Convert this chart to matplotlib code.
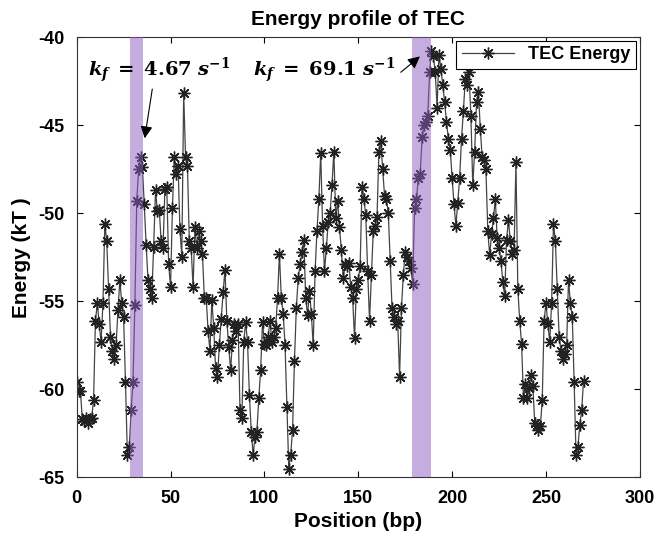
import matplotlib
matplotlib.use("Agg")
from matplotlib import pyplot as plt
import numpy as np

plt.rcParams['font.family'] = ['Liberation Sans', 'DejaVu Sans']
plt.rcParams['axes.unicode_minus'] = False
plt.rcParams['mathtext.fontset'] = 'custom'
plt.rcParams['mathtext.it'] = 'DejaVu Serif:style=italic:weight=bold'
plt.rcParams['mathtext.rm'] = 'DejaVu Serif:weight=bold'

# energy along the template, one value per bp starting at 0
energy = [
    -59.6, -60.1, -60.1, -61.7, -61.8, -61.6, -61.9, -61.7, -61.6, -60.6,
    -56.1, -55.1, -56.3, -57.3, -55.1, -50.6, -51.6, -54.3, -57.0, -57.8,
    -58.3, -57.5, -55.5, -53.8, -55.1, -55.9, -59.6, -63.7, -63.3, -61.2,
    -59.6, -55.2, -49.3, -47.5, -46.8, -47.4, -49.5, -51.8, -53.8, -54.3,
    -54.8, -51.9, -48.7, -49.9, -49.8, -51.6, -52.0, -48.6, -48.5, -52.9,
    -54.2, -49.7, -46.8, -47.8, -47.3, -50.9, -52.5, -43.2, -46.8, -47.3,
    -51.6, -52.0, -54.2, -50.8, -52.0, -51.0, -51.6, -52.3, -54.8, -54.8,
    -56.7, -57.8, -54.9, -56.5, -58.8, -59.3, -57.5, -56.0, -54.5, -53.2,
    -56.1, -57.6, -58.9, -57.2, -56.3, -56.7, -56.3, -61.2, -61.6, -57.3,
    -56.2, -57.3, -60.3, -62.4, -63.7, -62.7, -62.4, -60.5, -58.9, -56.2,
    -57.4, -57.5, -57.0, -56.1, -57.3, -57.0, -56.5, -54.8, -52.3, -54.8,
    -55.7, -57.5, -61.0, -64.5, -63.7, -62.3, -58.4, -55.4, -53.7, -52.9,
    -52.2, -51.5, -54.8, -55.8, -54.4, -55.7, -57.5, -53.3, -51.0, -49.2,
    -46.6, -50.7, -53.3, -52.0, -50.5, -50.0, -48.4, -46.5, -50.3, -49.3,
    -50.8, -52.1, -53.7, -52.9, -53.0, -52.8, -54.2, -54.8, -57.1, -54.3,
    -53.8, -53.0, -48.5, -49.2, -50.1, -53.3, -56.1, -53.5, -51.0, -50.7,
    -50.2, -46.5, -45.9, -47.5, -49.0, -49.2, -50.0, -52.7, -55.4, -55.9,
    -56.3, -56.1, -59.3, -55.4, -53.5, -52.2, -52.5, -52.7, -53.1, -54.0,
    -49.7, -49.2, -48.0, -47.8, -45.7, -45.0, -44.8, -44.5, -42.0, -40.8,
    -41.1, -42.0, -44.0, -41.0, -41.8, -42.7, -43.7, -44.8, -45.8, -46.4,
    -48.0, -49.5, -50.7, -49.4, -48.0, -45.8, -44.2, -42.4, -42.7, -42.0,
    -44.5, -48.4, -46.5, -43.7, -43.1, -45.2, -46.8, -47.0, -47.5, -51.0,
    -52.4, -51.2, -50.3, -49.2, -51.4, -52.0, -52.7, -53.9, -54.7, -51.5,
    -50.4, -51.6, -52.3, -52.1, -47.1, -54.3, -56.1, -57.4, -60.5, -59.7,
    -60.5, -59.9, -59.2, -59.8, -61.9, -62.0, -62.3, -62.1, -60.6, -56.1,
    -55.1, -56.3, -57.3, -55.1, -50.6, -51.6, -54.3, -57.0, -57.8, -58.3,
    -58.0, -57.5, -53.8, -55.1, -55.9, -59.6, -63.7, -63.3, -62.0, -61.2,
    -59.5,
]
position = np.arange(len(energy))

# highlighted regions and their folding rates
bands = [(28.4, 35.3), (178.6, 188.8)]
rate_labels = [r'$k_f\;=\;4.67\;s^{-1}$', r'$k_f\;=\;69.1\;s^{-1}$']
text_pos = [(5.8, -41.9), (94.0, -41.9)]
arrow_tail = [(40.5, -42.8), (171.5, -42.1)]
arrow_tip = [(36.0, -45.9), (184.0, -41.0)]

fig = plt.figure(figsize=(6.61, 5.45), dpi=100)
ax = fig.add_axes([0.116, 0.124, 0.852, 0.808])

ax.plot(position, energy, '-', color='#444444', lw=0.9, marker=(8, 2, 0),
        ms=8.5, mec='#222222', mew=1.0, label='TEC Energy', zorder=2)

for lo, hi in bands:
    ax.axvspan(lo, hi, color='#8e5cc0', alpha=0.5, lw=0, zorder=3)

for lab, tp, tail, tip in zip(rate_labels, text_pos, arrow_tail, arrow_tip):
    ax.text(tp[0], tp[1], lab, fontsize=14, ha='left', va='center', zorder=5)
    ax.annotate('', xy=tip, xytext=tail,
                arrowprops=dict(arrowstyle='-|>', color='black', lw=0.8,
                                mutation_scale=18), zorder=5)

ax.set_xlim(0, 300)
ax.set_ylim(-65, -40)
ax.set_xticks(np.arange(0, 301, 50))
ax.set_yticks(np.arange(-65, -39, 5))
ax.tick_params(direction='in', top=True, right=True, length=4, labelsize=13)
ax.tick_params(axis='x', pad=9)
ax.tick_params(axis='y', pad=9)
for t in ax.get_xticklabels() + ax.get_yticklabels():
    t.set_fontweight('bold')
for s in ax.spines.values():
    s.set_linewidth(0.8)
    s.set_color('#333333')

ax.set_xlabel('Position (bp)', fontsize=15, fontweight='bold', labelpad=4)
ax.set_ylabel('Energy (kT )', fontsize=15, fontweight='bold', labelpad=5)
ax.set_title('Energy profile of TEC', fontsize=15, fontweight='bold', pad=9)

leg = ax.legend(loc='upper right', fancybox=False, framealpha=1,
                edgecolor='black', borderpad=0.3, handlelength=2.9,
                borderaxespad=0.2, prop={'weight': 'bold', 'size': 13})
leg.get_frame().set_linewidth(0.8)

fig.savefig('out.png', dpi=100)
